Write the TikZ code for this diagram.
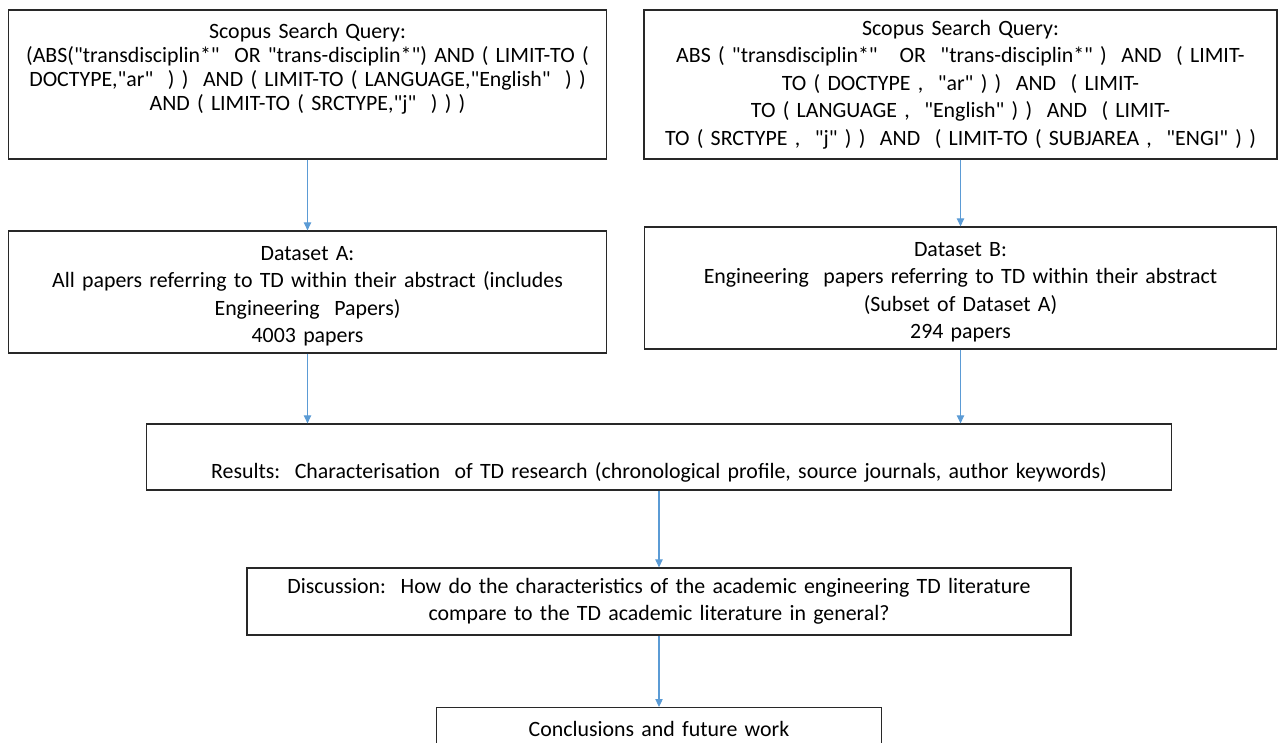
\documentclass[tikz,border=0pt]{standalone}
\usepackage{fontspec}
\setmainfont{Carlito}[Ligatures=TeXOff]
\usetikzlibrary{arrows.meta}

\definecolor{flowblue}{RGB}{91,155,213}
\definecolor{boxline}{RGB}{40,40,40}

\tikzset{
  stagebox/.style={draw=boxline, line width=0.9pt, align=center, inner sep=0pt,
    font=\fontsize{16.4}{18}\selectfont},
  flow/.style={draw=flowblue, line width=0.8pt, -{Triangle[length=6pt,width=5.5pt]}}
}

\begin{document}
\begin{tikzpicture}[x=0.75pt,y=0.75pt,yscale=-1,xscale=1]
\useasboundingbox (0,0) rectangle (1280,742);

% Search queries
\node [stagebox, text width=449pt, minimum height=111.75pt] (queryAll) at (307.5,84.5)
  {Scopus Search Query:\\
   (ABS("transdisciplin*"\ \ OR "trans-disciplin*") AND ( LIMIT-TO (\\
   DOCTYPE,"ar"\ \ ) )\ \ AND ( LIMIT-TO ( LANGUAGE,"English"\ \ ) )\\
   AND ( LIMIT-TO ( SRCTYPE,"j"\ \ ) ) )\rule[-26.5pt]{0pt}{26.5pt}};
\node [stagebox, text width=474.75pt, minimum height=111.75pt,
  font=\fontsize{16.4}{20.6}\selectfont] (queryEng) at (960.5,84.5)
  {Scopus Search Query:\\
   ABS ( "transdisciplin*"\ \ \ OR\ \ "trans-disciplin*" )\ \ AND\ \ ( LIMIT-\\
   TO ( DOCTYPE ,\ \ "ar" ) )\ \ AND\ \ ( LIMIT-\\
   TO ( LANGUAGE ,\ \ "English" ) )\ \ AND\ \ ( LIMIT-\\
   TO ( SRCTYPE ,\ \ "j" ) )\ \ AND\ \ ( LIMIT-TO ( SUBJAREA ,\ \ "ENGI" ) )};

% Datasets
\node [stagebox, text width=449pt, minimum height=91.5pt,
  font=\fontsize{16.4}{20.6}\selectfont] (dataA) at (307.5,292)
  {\rule{0pt}{17pt}Dataset A:\\
   All papers referring to TD within their abstract (includes\\
   Engineering\ \ Papers)\\
   4003 papers};
\node [stagebox, text width=474pt, minimum height=91.5pt,
  font=\fontsize{16.4}{20.6}\selectfont] (dataB) at (960.5,288)
  {\rule{0pt}{17pt}Dataset B:\\
   Engineering\ \ papers referring to TD within their abstract\\
   (Subset of Dataset A)\\
   294 papers};

% Results, discussion, conclusions
\node [stagebox, text width=768.75pt, minimum height=49.5pt,
  font=\fontsize{16.4}{21}\selectfont] (results) at (659,457)
  {\strut\\
   Results:\ \ Characterisation\ \ of TD research (chronological profile, source journals, author keywords)};
\node [stagebox, text width=618pt, minimum height=50.25pt,
  font=\fontsize{16.4}{20.25}\selectfont] (discussion) at (659,601.5)
  {Discussion:\ \ How do the characteristics of the academic engineering TD literature\\
   compare to the TD academic literature in general?};
\node [stagebox, text width=333.75pt, inner ysep=10.5pt, anchor=north] (conclusions) at (659,707)
  {Conclusions and future work};

% Connectors
\draw [flow] (queryAll) -- (dataA);
\draw [flow] (queryEng) -- (dataB);
\draw [flow] (dataA.south) -- (dataA.south |- results.north);
\draw [flow] (dataB.south) -- (dataB.south |- results.north);
\draw [flow] (results) -- (discussion);
\draw [flow] (discussion) -- (conclusions);

\end{tikzpicture}
\end{document}
